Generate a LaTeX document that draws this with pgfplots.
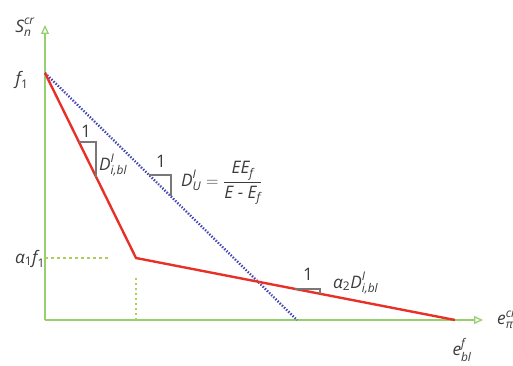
\documentclass[border=0pt]{standalone}
\usepackage{pgfplots}
\pgfplotsset{compat=1.18}
\usepackage{amsmath}
\usepackage{fontspec}
\setmainfont{Open Sans}
\usetikzlibrary{arrows.meta}

\definecolor{axgreen}{RGB}{150,208,110}
\definecolor{guidegreen}{RGB}{175,205,90}
\definecolor{lawred}{RGB}{232,48,38}
\definecolor{lawblue}{RGB}{70,70,180}
\definecolor{txt}{RGB}{60,60,60}
\definecolor{tri}{RGB}{120,120,120}

\newcommand{\iv}[1]{\text{\itshape #1}}
\tikzset{lbl/.style={text=txt, font=\LARGE\itshape},
         one/.style={text=txt, font=\LARGE\upshape}}

\begin{document}
\begin{tikzpicture}
\begin{axis}[
    x=1bp, y=1bp,
    xmin=0, xmax=438, ymin=0, ymax=295,
    axis lines=left,
    axis line style={axgreen, line width=1.1pt,
        -{Triangle[open, length=9pt, width=8pt, line width=1.3pt]}},
    xtick=\empty, ytick=\empty,
    clip=false]

    % bounding box of the page
    \path (axis cs:-45,-41) rectangle (axis cs:468,320);

    % guide lines
    \addplot[guidegreen, line width=1.2pt, dash pattern=on 3pt off 3pt]
        coordinates {(0,62) (65,62)};
    \addplot[guidegreen, line width=1.2pt, dash pattern=on 2pt off 3pt]
        coordinates {(91,0) (91,43)};

    % unloading (dotted) and bilinear law
    \addplot[lawblue, line width=2.4pt, dash pattern=on 1.4pt off 1.6pt]
        coordinates {(0,247) (252,0)};
    \addplot[lawred, line width=2.4pt]
        coordinates {(0,247) (91,62) (410,0)};

    % slope triangles
    \addplot[tri, line width=1.2pt] coordinates {(34,178) (51,178) (51,143)};
    \addplot[tri, line width=1.2pt] coordinates {(104,145) (126,145) (126,124)};
    \addplot[tri, line width=1.2pt] coordinates {(250,31) (275,31) (275,26)};

    \node[one] at (axis cs:41,189) {1};
    \node[one] at (axis cs:116,159) {1};
    \node[one] at (axis cs:263,46) {1};

    \node[lbl, anchor=west, inner sep=0pt] at (axis cs:54,155)
        {$\iv{D}^{\iv{I}}_{\iv{i,bl}}$};
    \node[lbl, anchor=west, inner sep=0pt] at (axis cs:136,137)
        {$\iv{D}^{\iv{I}}_{\iv{U}} = \dfrac{\iv{EE}_{\iv{f}}}{\iv{E}\text{ - }\iv{E}_{\iv{f}}}$};
    \node[lbl, anchor=west, inner sep=0pt] at (axis cs:288,37)
        {$\iv{α}_{\text{\upshape 2}}\iv{D}^{\iv{I}}_{\iv{i,bl}}$};

    % axis labels
    \node[lbl] at (axis cs:-20,293) {$\iv{S}^{\iv{cr}}_{\iv{n}}$};
    \node[lbl] at (axis cs:-23,240) {$\iv{f}_{\text{\upshape 1}}$};
    \node[lbl] at (axis cs:-15,61) {$\iv{α}_{\text{\upshape 1}}\iv{f}_{\text{\upshape 1}}$};
    \node[lbl, overlay, anchor=west, inner sep=0pt] at (axis cs:452,0)
        {$\iv{e}^{\iv{cr}}_{\iv{π}}$};
    \node[lbl] at (axis cs:417,-30) {$\iv{e}^{\iv{f}}_{\iv{bl}}$};
\end{axis}
\end{tikzpicture}
\end{document}
